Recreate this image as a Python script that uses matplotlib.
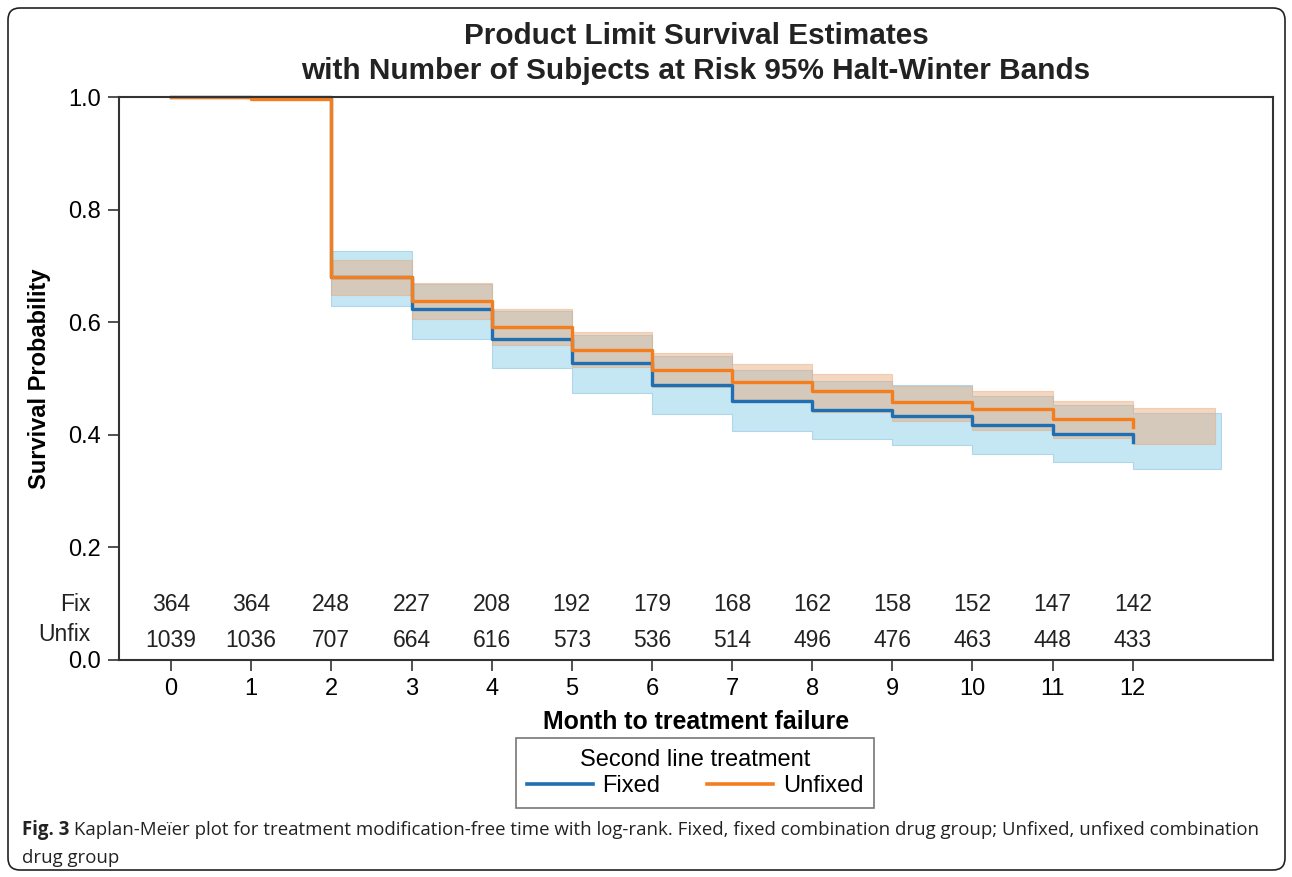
import numpy as np
import matplotlib
matplotlib.use("Agg")
from matplotlib import pyplot as plt
from matplotlib.patches import FancyBboxPatch
from matplotlib.lines import Line2D

plt.rcParams['font.family'] = ['Liberation Sans', 'DejaVu Sans']

# survival curves (month, probability)
months = [0, 1, 2, 3, 4, 5, 6, 7, 8, 9, 10, 11, 12]
fixed_surv = [1.0, 1.0, 0.680, 0.623, 0.571, 0.528, 0.489, 0.460, 0.444, 0.433, 0.417, 0.402, 0.388]
unfixed_surv = [1.0, 0.997, 0.680, 0.638, 0.591, 0.551, 0.515, 0.494, 0.477, 0.458, 0.445, 0.428, 0.413]

# 95% Hall-Wellner bands
fixed_band_t = [2, 3, 4, 5, 6, 7, 8, 9, 10, 11, 12, 13.1]
fixed_lo = [0.629, 0.570, 0.518, 0.474, 0.437, 0.407, 0.392, 0.381, 0.366, 0.352, 0.339]
fixed_hi = [0.726, 0.668, 0.620, 0.578, 0.540, 0.515, 0.496, 0.488, 0.469, 0.453, 0.439]
unfixed_band_t = [2, 3, 4, 5, 6, 7, 8, 9, 10, 11, 12, 13.03]
unfixed_lo = [0.648, 0.606, 0.560, 0.520, 0.485, 0.463, 0.440, 0.424, 0.408, 0.395, 0.384]
unfixed_hi = [0.711, 0.670, 0.624, 0.582, 0.546, 0.526, 0.508, 0.487, 0.477, 0.460, 0.447]

# number at risk
fix_risk = [364, 364, 248, 227, 208, 192, 179, 168, 162, 158, 152, 147, 142]
unfix_risk = [1039, 1036, 707, 664, 616, 573, 536, 514, 496, 476, 463, 448, 433]

blue = '#1f6fb2'
orange = '#f47e1e'

W, H = 1292, 877
fig = plt.figure(figsize=(W / 100, H / 100), dpi=100)
ax = fig.add_axes([119 / W, 1 - 660 / H, (1273 - 119) / W, (660 - 97) / H])

ax.fill_between(fixed_band_t, np.append(fixed_lo, fixed_lo[-1]), np.append(fixed_hi, fixed_hi[-1]),
                step='post', facecolor='#9fd6ec', alpha=0.6, edgecolor='#8cc6e0', lw=0.8)
ax.fill_between(unfixed_band_t, np.append(unfixed_lo, unfixed_lo[-1]), np.append(unfixed_hi, unfixed_hi[-1]),
                step='post', facecolor='#e8a777', alpha=0.45, edgecolor='#e8a777', lw=0.8)

ax.plot(months, fixed_surv, drawstyle='steps-post', color=blue, lw=2.4, clip_on=False)
ax.plot(months, unfixed_surv, drawstyle='steps-post', color=orange, lw=2.4, clip_on=False)

ax.set_xlim(-0.65, 13.75)
ax.set_ylim(0, 1.0)
ax.set_xticks(months)
ax.set_yticks([0.0, 0.2, 0.4, 0.6, 0.8, 1.0])
ax.set_yticklabels(['0.0', '0.2', '0.4', '0.6', '0.8', '1.0'])
ax.tick_params(labelsize=17, length=8, width=1.2, color='#333333', pad=5)
for s in ax.spines.values():
    s.set_linewidth(1.5)
    s.set_color('#333333')

# at-risk table
for m, a, b in zip(months, fix_risk, unfix_risk):
    ax.text(m, 0.0994, str(a), ha='center', va='center', fontsize=16.5, color='#222222')
    ax.text(m, 0.0355, str(b), ha='center', va='center', fontsize=16.5, color='#222222')
ax.text(-0.025, 0.0994, 'Fix', transform=ax.get_yaxis_transform(), ha='right', va='center',
        fontsize=16.5, color='#222222')
ax.text(-0.025, 0.046, 'Unfix', transform=ax.get_yaxis_transform(), ha='right', va='center',
        fontsize=16.5, color='#222222')

ax.set_xlabel('Month to treatment failure', fontsize=17.9, fontweight='bold', labelpad=7)
ax.set_ylabel('Survival Probability', fontsize=17, fontweight='bold', labelpad=12)

fig.text(696 / W, 1 - 36 / H, 'Product Limit Survival Estimates', ha='center', va='center',
         fontsize=21.4, fontweight='bold', color='#222222')
fig.text(696 / W, 1 - 71 / H, 'with Number of Subjects at Risk 95% Halt-Winter Bands', ha='center',
         va='center', fontsize=21.4, fontweight='bold', color='#222222')

handles = [Line2D([], [], color=blue, lw=2.6), Line2D([], [], color=orange, lw=2.6)]
leg = fig.legend(handles, ['Fixed', 'Unfixed'], ncol=2, title='Second line treatment',
                 loc='upper center', bbox_to_anchor=(695 / W, 1 - 738 / H), fontsize=17,
                 title_fontsize=17, fancybox=False, edgecolor='#555555', handlelength=2.8,
                 columnspacing=2.0, handletextpad=0.4, borderpad=0.45, labelspacing=0.2,
                 borderaxespad=0)
leg.get_frame().set_linewidth(1.2)

# caption
cap = fig.text(22 / W, 1 - 830 / H, 'Fig. 3', ha='left', va='center', fontsize=13.4,
               fontweight='bold', family='Open Sans', color='#222222')
fig.text(22 / W, 1 - 858 / H, 'drug group', ha='left', va='center', fontsize=13.4,
         family='Open Sans', color='#222222')
ax.annotate(' Kaplan-Meïer plot for treatment modification-free time with log-rank. Fixed, fixed '
            'combination drug group; Unfixed, unfixed combination',
            xy=(1, 0.5), xycoords=cap, ha='left', va='center', fontsize=13.4,
            family='Open Sans', color='#222222', annotation_clip=False)

border = FancyBboxPatch((0.08, 0.07), 12.77, 8.62, boxstyle='round,pad=0,rounding_size=0.12',
                        transform=fig.dpi_scale_trans, fill=False, edgecolor='#222222', lw=1.2)
fig.patches.append(border)

fig.savefig('out.png', dpi=100)
